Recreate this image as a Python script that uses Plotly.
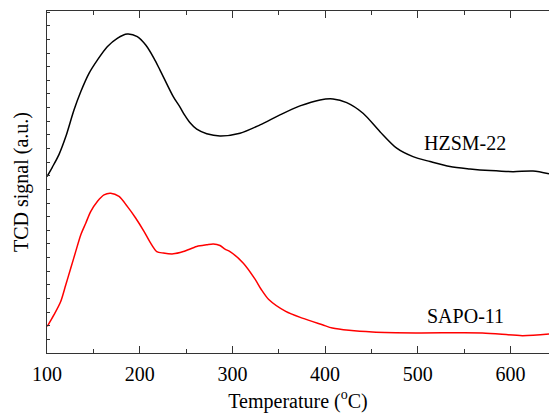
import plotly.graph_objects as go

# HZSM-22 (black)
hzsm_T = [100, 105.7, 112.9, 120.2, 129.1, 136.4, 145.3, 154.3, 165.0, 175.8, 186.6, 197.4, 206.5,
          215.4, 221.9, 236.2, 243.3, 248.7, 254.3, 261.5, 272.3, 286.6, 308.2, 329.8, 351.3,
          372.9, 394.5, 408.5, 423.3, 440.9, 459.2, 477.2, 494.8, 513.2, 534.7, 556.3, 577.9,
          602.7, 624.3, 641.5]
hzsm_S = [12.94, 13.62, 14.55, 15.85, 17.82, 19.16, 20.51, 21.48, 22.46, 23.08, 23.39, 23.20, 22.58,
          21.61, 20.75, 18.80, 18.05, 17.42, 16.88, 16.41, 16.08, 15.92, 16.12, 16.73, 17.46,
          18.12, 18.56, 18.63, 18.36, 17.58, 16.23, 15.02, 14.40, 14.04, 13.67, 13.50, 13.38,
          13.30, 13.34, 13.14]

# SAPO-11 (red)
sapo_T = [100.3, 107.6, 114.8, 120.2, 125.6, 131.0, 136.4, 141.8, 147.1, 154.3, 161.5, 168.7, 177.7,
          186.6, 195.6, 204.6, 211.0, 218.4, 225.5, 236.2, 247.1, 261.5, 272.3, 279.4, 286.6,
          292.0, 297.4, 311.8, 324.4, 331.3, 339.5, 357.5, 375.4, 397.0, 407.8, 425.8, 451.0,
          497.8, 569.6, 612.8, 641.5]
sapo_S = [1.95, 2.81, 3.78, 4.99, 6.21, 7.45, 8.66, 9.52, 10.37, 11.11, 11.60, 11.72, 11.48,
          10.75, 9.90, 8.92, 8.15, 7.44, 7.33, 7.27, 7.44, 7.81, 7.93, 7.99, 7.88,
          7.62, 7.44, 6.59, 5.42, 4.64, 3.90, 3.05, 2.56, 2.07, 1.83, 1.66, 1.54,
          1.47, 1.47, 1.27, 1.39]

x_ticks = [100, 200, 300, 400, 500, 600]
labels = ["HZSM-22", "SAPO-11"]
label_pos = [(551, 15.43), (551, 2.68)]

FONT = "Liberation Serif"

fig = go.Figure()
fig.add_trace(go.Scatter(x=hzsm_T, y=hzsm_S, mode="lines",
                         line=dict(color="black", width=1.5, shape="spline", smoothing=0.8),
                         showlegend=False))
fig.add_trace(go.Scatter(x=sapo_T, y=sapo_S, mode="lines",
                         line=dict(color="red", width=1.5, shape="spline", smoothing=0.8),
                         showlegend=False))

for txt, (lx, ly) in zip(labels, label_pos):
    fig.add_annotation(x=lx, y=ly, text=txt, showarrow=False,
                       font=dict(family=FONT, size=20, color="black"))

fig.update_layout(
    width=549, height=416,
    margin=dict(l=47, r=0, t=11, b=63),
    paper_bgcolor="white", plot_bgcolor="white",
    font=dict(family=FONT, size=20, color="black"),
    xaxis=dict(range=[100, 641.5], tickvals=x_ticks, ticks="inside", ticklen=7,
               tickwidth=1.2, tickcolor="#333", automargin=False, ticklabelstandoff=3,
               showline=True, linecolor="#333", linewidth=1.3, mirror="ticks",
               showgrid=False, zeroline=False,
               minor=dict(dtick=50, tick0=100, ticks="inside", ticklen=4, tickcolor="#333", showgrid=False),
               title=dict(text="Temperature (<sup>o</sup>C)", font=dict(family=FONT, size=20), standoff=9),
               tickfont=dict(family=FONT, size=20)),
    yaxis=dict(range=[0, 25.08], dtick=1, tick0=0, ticks="inside", ticklen=3,
               tickcolor="#333", showticklabels=False, automargin=False,
               showline=True, linecolor="#333", linewidth=1.3, mirror=False,
               showgrid=False, zeroline=False,
               title=dict(text="TCD signal (a.u.)", font=dict(family=FONT, size=20), standoff=11)),
)

fig.write_html("out.html", config={"displayModeBar": False},
               post_script="document.body.style.margin='0';document.body.style.overflow='hidden';")
